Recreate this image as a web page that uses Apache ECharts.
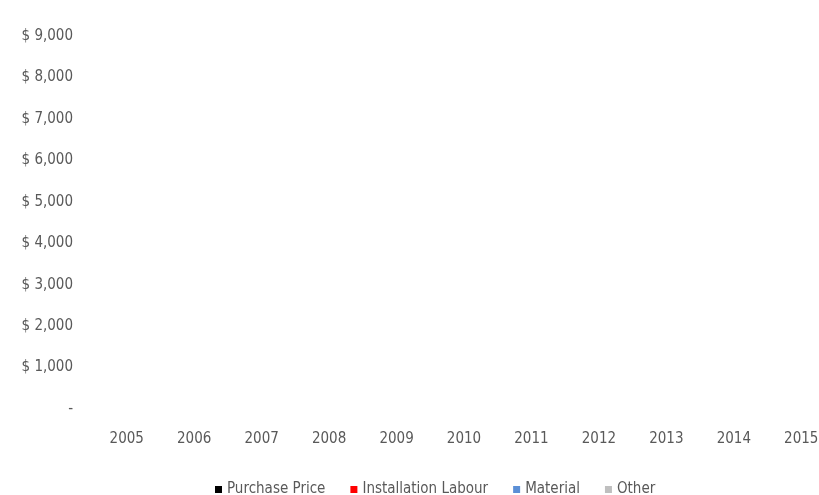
<!DOCTYPE html>
<html><head><meta charset="utf-8">
<script src="https://cdn.jsdelivr.net/npm/echarts@6/dist/echarts.min.js"></script>
<style>html,body{margin:0;padding:0;background:#fff;overflow:hidden}#c{width:835px;height:495px}</style>
</head><body><div id="c"></div>
<script>
const years = ['2005','2006','2007','2008','2009','2010','2011','2012','2013','2014','2015'];
const purchasePrice = [0,0,0,0,0,0,0,0,0,0,0];
const installationLabour = [0,0,0,0,0,0,0,0,0,0,0];
const material = [0,0,0,0,0,0,0,0,0,0,0];
const other = [0,0,0,0,0,0,0,0,0,0,0];
const yTicks = [0,1000,2000,3000,4000,5000,6000,7000,8000,9000];

const font = '"DejaVu Sans Condensed", "Liberation Sans Narrow", sans-serif';
const chart = echarts.init(document.getElementById('c'));
function mk(name, data, color){
  return {name, type:'bar', stack:'t', data, itemStyle:{color}, barWidth:'55%'};
}
chart.setOption({
  animation:false,
  grid:{left:93, right:0, top:36, bottom:86, containLabel:false},
  legend:{top:477, left:210, itemWidth:7, itemHeight:7, itemGap:25, icon:'rect',
    textStyle:{fontFamily:font, fontSize:15, color:'#595959'},
    data:['Purchase Price','Installation Labour','Material','Other']},
  xAxis:{type:'category', data:years, axisLine:{show:false}, axisTick:{show:false},
    axisLabel:{fontFamily:font, fontSize:15, color:'#595959', margin:23}},
  yAxis:{type:'value', min:0, max:yTicks[yTicks.length-1], interval:1000,
    splitLine:{show:false}, axisLine:{show:false}, axisTick:{show:false},
    axisLabel:{fontFamily:font, fontSize:15, color:'#595959', margin:20,
      formatter:v => v===0 ? '-' : '$ ' + v.toLocaleString('en-US')}},
  series:[
    mk('Purchase Price', purchasePrice, '#000000'),
    mk('Installation Labour', installationLabour, '#ff0000'),
    mk('Material', material, '#5b8fd6'),
    mk('Other', other, '#bfbfbf')
  ]
});
</script></body></html>
